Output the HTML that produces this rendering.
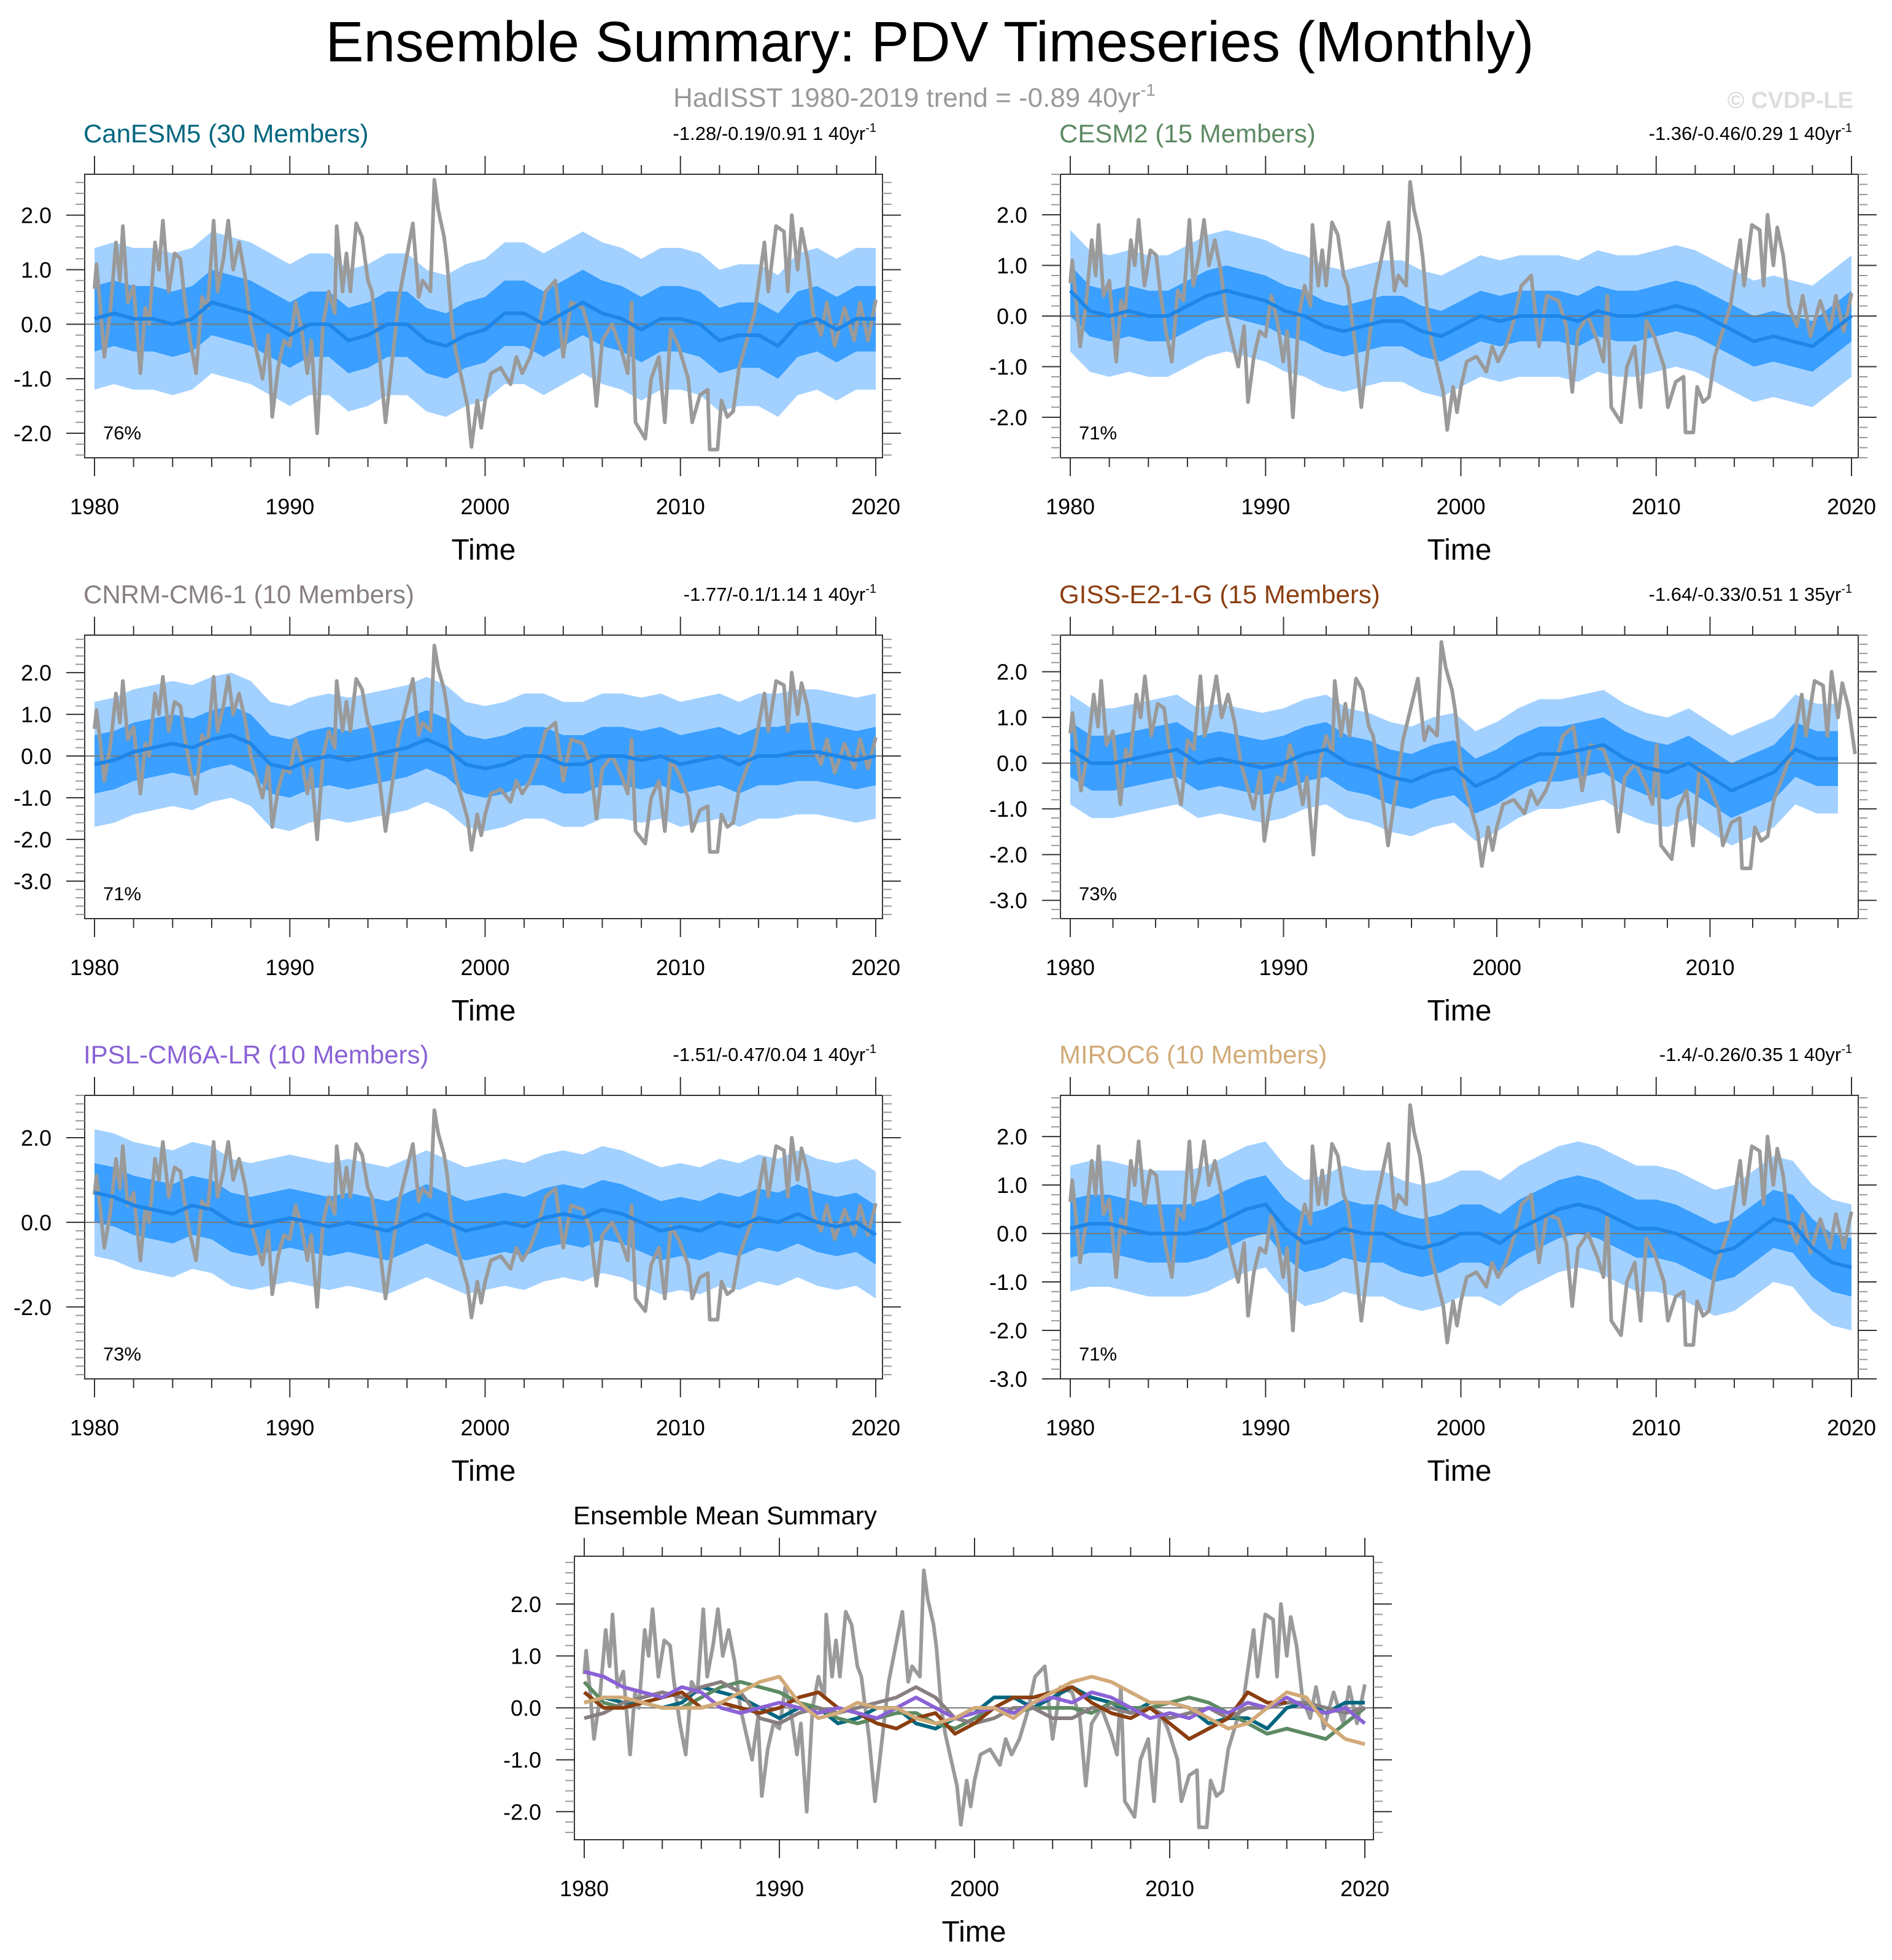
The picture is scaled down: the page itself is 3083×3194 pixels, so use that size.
<!DOCTYPE html>
<html><head><meta charset="utf-8"><style>
body{margin:0;background:#fff;}
svg{display:block;font-family:"Liberation Sans",sans-serif;}
</style></head><body>
<svg id="c" width="3083" height="3194" viewBox="0 0 3083 3194" xmlns="http://www.w3.org/2000/svg">
<text x="1515" y="100" font-size="93" text-anchor="middle" fill="#000">Ensemble Summary: PDV Timeseries (Monthly)</text>
<text x="1490" y="174" font-size="44" text-anchor="middle" fill="#999">HadISST 1980-2019 trend = -0.89 40yr<tspan dy="-18" font-size="28">-1</tspan></text>
<text x="3020" y="176" font-size="38" text-anchor="end" fill="#ddd" font-weight="bold">© CVDP-LE</text>
</svg>
<script>
// Observed HadISST PDV (time, value)
const obsT=[1980.0,1980.1,1980.3,1980.5,1980.8,1981.1,1981.3,1981.45,1981.7,1982.0,1982.35,1982.6,1982.8,1983.1,1983.3,1983.5,1983.8,1984.1,1984.4,1984.6,1984.9,1985.2,1985.5,1985.8,1986.1,1986.3,1986.6,1986.85,1987.1,1987.4,1987.7,1988.0,1988.3,1988.6,1988.9,1989.1,1989.4,1989.7,1990.0,1990.3,1990.6,1990.9,1991.1,1991.4,1991.7,1992.0,1992.3,1992.4,1992.7,1992.9,1993.1,1993.4,1993.7,1994.0,1994.2,1994.6,1994.9,1995.6,1996.3,1996.6,1996.8,1997.2,1997.4,1997.6,1997.9,1998.05,1998.3,1998.5,1998.8,1999.1,1999.3,1999.6,1999.8,2000.0,2000.3,2000.8,2001.3,2001.6,2001.9,2002.3,2002.7,2003.1,2003.6,2004.0,2004.4,2005.0,2005.4,2005.7,2006.0,2006.5,2007.0,2007.3,2007.5,2007.7,2008.2,2008.5,2008.9,2009.2,2009.5,2009.9,2010.4,2010.6,2011.0,2011.4,2011.5,2011.9,2012.1,2012.4,2012.7,2013.0,2013.4,2013.8,2014.3,2014.5,2014.9,2015.3,2015.5,2015.7,2016.0,2016.2,2016.5,2016.8,2017.2,2017.5,2017.9,2018.4,2018.9,2019.2,2019.6,2020.0];
const obsV=[0.65,1.1,0.3,-0.6,0.2,1.5,0.8,1.8,0.4,0.7,-0.9,0.3,0.0,1.5,1.0,1.9,0.6,1.3,1.2,0.5,-0.3,-0.9,0.5,0.3,1.9,0.6,1.2,1.9,1.0,1.5,0.9,0.0,-0.5,-1.0,-0.2,-1.7,-0.8,-0.3,-0.4,0.4,-0.1,-0.9,-0.3,-2.0,0.0,0.6,0.2,1.8,0.6,1.3,0.6,1.85,1.6,0.8,0.6,-0.6,-1.8,0.5,1.85,0.5,0.8,0.6,2.65,2.1,1.6,1.15,0.0,-0.5,-1.0,-1.5,-2.25,-1.4,-1.9,-1.4,-0.9,-0.8,-1.1,-0.6,-0.9,-0.6,-0.1,0.6,0.8,-0.6,0.4,0.3,-0.2,-1.5,-0.3,0.0,-0.5,-0.9,0.4,-1.8,-2.1,-1.0,-0.6,-1.8,-0.1,-0.4,-1.0,-1.8,-1.3,-1.2,-2.3,-2.3,-1.4,-1.7,-1.6,-0.8,-0.3,0.2,1.5,0.6,1.8,1.7,0.6,2.0,1.0,1.75,1.2,0.2,-0.2,0.4,-0.4,0.3,-0.3,0.4,-0.3,0.45];
// Ensemble means (annual, from 1980)
const meanCan=[0.1,0.2,0.1,0.1,0.0,0.1,0.4,0.3,0.2,0.0,-0.2,0.0,0.0,-0.3,-0.2,0.0,0.0,-0.3,-0.4,-0.2,-0.1,0.2,0.2,0.0,0.2,0.4,0.2,0.1,-0.1,0.1,0.1,0.0,-0.3,-0.2,-0.2,-0.4,0.0,0.1,-0.1,0.1,0.1];
const meanCesm=[0.5,0.1,0.0,0.1,0.0,0.0,0.2,0.4,0.5,0.4,0.3,0.1,0.0,-0.2,-0.3,-0.2,-0.1,-0.1,-0.3,-0.4,-0.2,0.0,-0.1,0.0,0.0,0.0,-0.1,0.1,0.0,0.0,0.1,0.2,0.1,-0.1,-0.3,-0.5,-0.4,-0.5,-0.6,-0.3,0.0];
const meanCnrm=[-0.2,-0.1,0.1,0.2,0.3,0.2,0.4,0.5,0.3,-0.2,-0.3,-0.1,0.0,-0.1,0.0,0.1,0.2,0.4,0.2,-0.2,-0.3,-0.2,0.0,0.0,-0.2,-0.2,0.0,0.0,-0.1,0.0,-0.2,-0.1,0.0,-0.2,0.0,0.0,0.1,0.1,0.0,-0.1,0.0];
const meanGiss=[0.3,0.0,0.0,0.1,0.2,0.3,0.0,0.1,0.0,-0.1,0.0,0.2,0.3,0.0,-0.1,-0.3,-0.4,-0.2,-0.1,-0.5,-0.3,0.0,0.2,0.2,0.3,0.4,0.1,-0.1,-0.2,0.0,-0.3,-0.6,-0.4,-0.2,0.3,0.1,0.1];
const meanIpsl=[0.7,0.6,0.4,0.3,0.2,0.4,0.3,0.0,-0.1,0.0,0.1,0.0,-0.1,0.0,-0.1,-0.2,0.0,0.2,0.0,-0.2,-0.1,0.0,-0.1,0.1,0.2,0.1,0.3,0.2,0.0,-0.2,-0.1,-0.2,0.0,-0.1,0.1,0.0,0.2,0.0,-0.1,0.0,-0.3];
const meanMiroc=[0.1,0.2,0.2,0.1,0.0,0.0,0.0,0.1,0.3,0.5,0.6,0.1,-0.2,-0.1,0.1,0.0,0.0,-0.2,-0.3,-0.2,0.0,0.0,-0.2,0.1,0.3,0.5,0.6,0.5,0.3,0.1,0.1,0.0,-0.2,-0.4,-0.3,0.0,0.3,0.2,-0.3,-0.6,-0.7];
// Band half-widths (inner ~ 25-75%, outer ~ 10-90%)
const innerW=[0.6,0.5,0.7,0.6,0.7,0.6];
const outerW=[1.3,1.2,1.5,1.2,1.5,1.3];
const modelNames=["CanESM5 (30 Members)","CESM2 (15 Members)","CNRM-CM6-1 (10 Members)","GISS-E2-1-G (15 Members)","IPSL-CM6A-LR (10 Members)","MIROC6 (10 Members)"];
const statLabels=["-1.28/-0.19/0.91 1 40yr","-1.36/-0.46/0.29 1 40yr","-1.77/-0.1/1.14 1 40yr","-1.64/-0.33/0.51 1 35yr","-1.51/-0.47/0.04 1 40yr","-1.4/-0.26/0.35 1 40yr"];
const pctLabels=["76%","71%","71%","73%","73%","71%"];
const yTicks=[[2,1,0,-1,-2],[2,1,0,-1,-2],[2,1,0,-1,-2,-3],[2,1,0,-1,-2,-3],[2,0,-2],[2,1,0,-1,-2,-3]];
const yRanges=[[-2.45,2.75],[-2.8,2.8],[-3.9,2.9],[-3.4,2.8],[-3.7,3.0],[-3.0,2.85]];
const xTicks=[1980,1990,2000,2010,2020];
const means=[meanCan,meanCesm,meanCnrm,meanGiss,meanIpsl,meanMiroc];
const colors=["#00667f","#5d8a63","#888080","#8b3e10","#8a62d6","#d2aa78"];

const NS="http://www.w3.org/2000/svg";
const svg=document.getElementById('c');
function mk(tag,attrs,parent){const e=document.createElementNS(NS,tag);for(const k in attrs)e.setAttribute(k,attrs[k]);(parent||svg).appendChild(e);return e;}

function panel(bx,by,bw,bh,pxYr,xEndYr,yr,ticks,idx,isSummary){
  const g=mk('g',{});
  
  
  const dataL=bx+16;
  const X=t=>dataL+(t-1980)*pxYr;
  const Y=v=>by+bh-(v-yr[0])/(yr[1]-yr[0])*bh;
  const clipId='cl'+idx+(isSummary?'s':'');
  const cp=mk('clipPath',{id:clipId},g);mk('rect',{x:bx,y:by,width:bw,height:bh},cp);
  const d=mk('g',{'clip-path':'url(#'+clipId+')'},g);
  if(!isSummary){
    const m=means[idx];
    [[outerW[idx],'#a3d1ff','outer-band'],[innerW[idx],'#3a9fff','inner-band']].forEach(([w,c,n])=>{
      let up=[],lo=[];
      m.forEach((v,i)=>{up.push(X(1980+i)+','+Y(v+w));lo.unshift(X(1980+i)+','+Y(v-w));});
      const p=mk('polygon',{points:up.concat(lo).join(' '),fill:c},d);
      
      
    });
  }
  const z=mk('line',{x1:bx,x2:bx+bw,y1:Y(0),y2:Y(0),stroke:'#777','stroke-width':2},d);
  
  
  let op=obsT.filter(t=>t<=xEndYr+0.01).map((t,i)=>X(t)+','+Y(obsV[i])).join(' ');
  const ol=mk('polyline',{points:op,fill:'none',stroke:'#9a9a9a','stroke-width':6,'stroke-linejoin':'round'},d);
  
  
  const list=isSummary?[0,1,2,3,4,5]:[idx];
  list.forEach(k=>{
    const pts=means[k].map((v,i)=>X(1980+i)+','+Y(v)).join(' ');
    const l=mk('polyline',{points:pts,fill:'none',stroke:isSummary?colors[k]:'#1e86e8','stroke-width':6,'stroke-linejoin':'round'},d);
    
    
  });
  mk('rect',{x:bx,y:by,width:bw,height:bh,fill:'none',stroke:'#333','stroke-width':2},g);
  for(let yv=1980;yv<=xEndYr;yv+=2){
    const major=yv%10===0;const x=X(yv);
    mk('line',{x1:x,x2:x,y1:by+bh,y2:by+bh+(major?30:15),stroke:'#333','stroke-width':2},g);
    mk('line',{x1:x,x2:x,y1:by,y2:by-(major?30:15),stroke:'#333','stroke-width':2},g);
  }
  xTicks.filter(t=>t<=xEndYr).forEach(t=>{
    const tx=mk('text',{x:X(t),y:by+bh+92,'font-size':36,'text-anchor':'middle',fill:'#000'},g);tx.textContent=t;
    
    
  });
  const tl=mk('text',{x:bx+bw/2,y:by+bh+166,'font-size':48,'text-anchor':'middle',fill:'#000'},g);tl.textContent='Time';
  
  
  for(let v=Math.ceil(yr[0]*5)/5;v<=yr[1]+1e-6;v+=0.2){
    const vv=Math.round(v*10)/10;const major=Math.abs(vv-Math.round(vv))<1e-6&&ticks.includes(Math.round(vv));
    const y=Y(vv);
    mk('line',{x1:bx,x2:bx-(major?30:15),y1:y,y2:y,stroke:major?'#333':'#999','stroke-width':2},g);
    mk('line',{x1:bx+bw,x2:bx+bw+(major?30:15),y1:y,y2:y,stroke:major?'#333':'#999','stroke-width':2},g);
  }
  ticks.forEach(t=>{
    const ty=mk('text',{x:bx-54,y:Y(t)+13,'font-size':36,'text-anchor':'end',fill:'#000'},g);ty.textContent=t.toFixed(1);
    
    
  });
  const t1=mk('text',{x:bx-2,y:by-52,'font-size':42,fill:isSummary?'#000':colors[idx]},g);
  t1.textContent=isSummary?'Ensemble Mean Summary':modelNames[idx];
  
  
  if(!isSummary){
    const t2=mk('text',{x:bx+bw-10,y:by-56,'font-size':31,'text-anchor':'end',fill:'#000'},g);
    t2.textContent=statLabels[idx];
    const sp=mk('tspan',{dy:-13,'font-size':20},t2);sp.textContent='-1';
    
    
    const t3=mk('text',{x:bx+30,y:by+bh-30,'font-size':31,fill:'#000'},g);t3.textContent=pctLabels[idx];
    
    
  }
}
const rowsY=[284,1035,1785];
for(let i=0;i<6;i++){
  const col=i%2,row=Math.floor(i/2);
  const bx=col?1728:138;
  const isG=(i===3);
  panel(bx,rowsY[row],1300,462,isG?34.75:1273/40,isG?2016.9:2020,yRanges[i],yTicks[i],i,false);
}
panel(936,2536,1302,462,1272/40,2020,[-2.54,2.92],[2,1,0,-1,-2],0,true);
</script>
</body></html>
